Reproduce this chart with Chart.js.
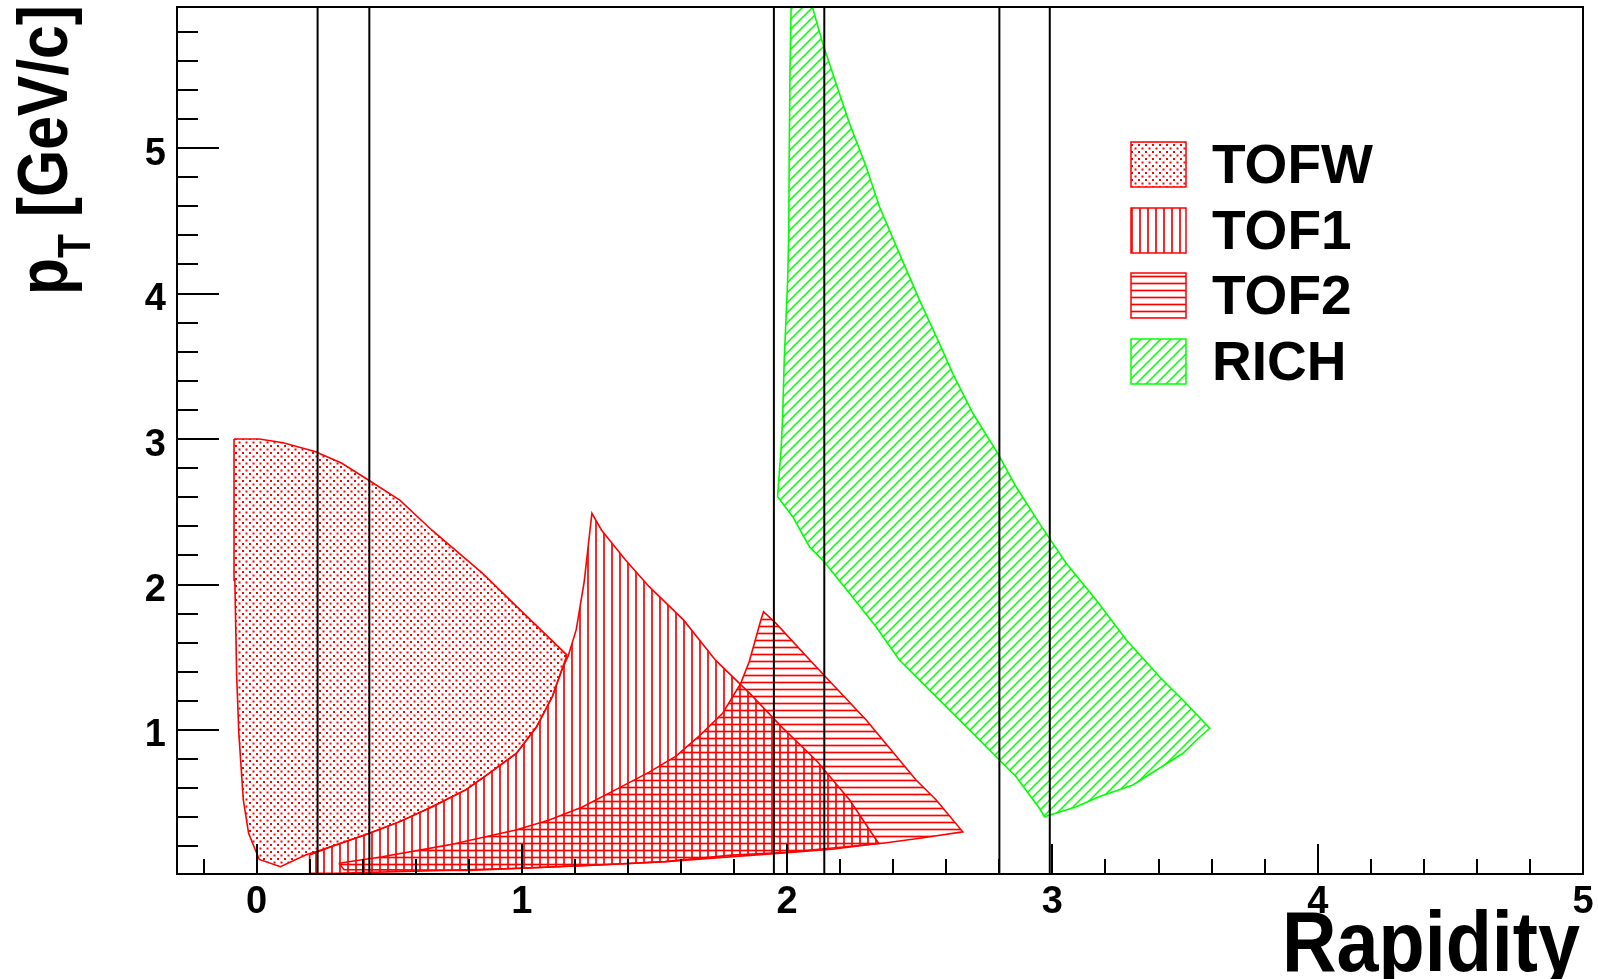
<!DOCTYPE html>
<html>
<head>
<meta charset="utf-8">
<title>Acceptance pT vs rapidity</title>
<script src="https://cdn.jsdelivr.net/npm/chart.js@4.4.1/dist/chart.umd.min.js"></script>
<style>
  html, body { margin: 0; padding: 0; background: #fff; }
  #wrap { width: 1598px; height: 979px; }
</style>
</head>
<body>
<div id="wrap"><canvas id="acceptance"></canvas></div>
<script>
// acceptance contours, rapidity (x) and pT in GeV/c (y)
const tofwRapidity = [-0.085, 0.01, 0.10, 0.22, 0.32, 0.42, 0.54, 0.66, 0.85, 0.98, 1.17, 1.15, 1.115, 1.055, 0.98, 0.875, 0.79, 0.66, 0.54, 0.41, 0.285, 0.185, 0.09, 0.01, -0.03, -0.05, -0.067, -0.075, -0.082, -0.085];
const tofwPt = [3.0, 3.0, 2.975, 2.915, 2.835, 2.72, 2.58, 2.375, 2.08, 1.85, 1.515, 1.41, 1.23, 1.02, 0.84, 0.70, 0.59, 0.47, 0.37, 0.28, 0.20, 0.14, 0.06, 0.11, 0.29, 0.52, 0.98, 1.37, 2.03, 3.0];

const tof1Rapidity = [0.20, 0.285, 0.41, 0.54, 0.66, 0.79, 0.875, 0.98, 1.055, 1.115, 1.15, 1.175, 1.205, 1.235, 1.264, 1.30, 1.39, 1.48, 1.61, 1.73, 1.86, 1.98, 2.11, 2.235, 2.345, 2.17, 1.95, 1.54, 1.29, 1.0, 0.6, 0.3, 0.2, 0.2];
const tof1Pt = [0.14, 0.20, 0.28, 0.37, 0.47, 0.59, 0.70, 0.84, 1.02, 1.23, 1.41, 1.51, 1.69, 2.02, 2.49, 2.375, 2.17, 1.985, 1.755, 1.48, 1.25, 1.02, 0.79, 0.52, 0.22, 0.18, 0.15, 0.095, 0.072, 0.05, 0.03, 0.015, 0.015, 0.14];

const tof2Rapidity = [0.31, 0.474, 0.725, 0.977, 1.103, 1.228, 1.354, 1.48, 1.581, 1.669, 1.757, 1.825, 1.857, 1.901, 1.911, 1.958, 2.109, 2.298, 2.486, 2.562, 2.662, 2.50, 2.36, 2.0, 1.79, 1.54, 1.29, 0.8, 0.33, 0.31];
const tof2Pt = [0.084, 0.129, 0.21, 0.313, 0.381, 0.47, 0.59, 0.71, 0.82, 0.96, 1.115, 1.321, 1.469, 1.756, 1.813, 1.733, 1.435, 1.069, 0.656, 0.519, 0.30, 0.256, 0.221, 0.16, 0.14, 0.095, 0.072, 0.035, 0.04, 0.084];

const richRapidity = [2.02, 2.075, 2.134, 2.184, 2.235, 2.298, 2.348, 2.423, 2.499, 2.574, 2.624, 2.70, 2.794, 2.863, 2.951, 3.052, 3.165, 3.279, 3.404, 3.492, 3.593, 3.543, 3.492, 3.303, 3.178, 3.09, 2.97, 2.951, 2.863, 2.80, 2.675, 2.549, 2.423, 2.335, 2.235, 2.134, 2.084, 2.021, 1.964, 1.971, 1.977, 1.983, 1.989, 1.996, 2.002, 2.006, 2.008, 2.011, 2.015, 2.02];
const richPt = [6.1, 6.1, 5.72, 5.445, 5.17, 4.872, 4.597, 4.276, 3.955, 3.658, 3.452, 3.177, 2.902, 2.672, 2.42, 2.146, 1.893, 1.619, 1.366, 1.206, 1.012, 0.931, 0.84, 0.622, 0.542, 0.473, 0.404, 0.462, 0.679, 0.794, 1.023, 1.252, 1.481, 1.71, 1.94, 2.168, 2.26, 2.466, 2.603, 2.787, 2.924, 3.153, 3.543, 3.84, 4.093, 4.414, 5.009, 5.559, 5.97, 6.1];

// rapidity cuts drawn as vertical lines
const cutRapidity = [0.23, 0.425, 1.95, 2.14, 2.80, 2.99];

const rapidityTicks = [0, 1, 2, 3, 4, 5];
const ptTicks = [1, 2, 3, 4, 5];

const rapidityMin = -0.3, rapidityMax = 5.0;
const ptMin = 0.01, ptMax = 5.97;

const RED = '#ff0000';
const GREEN = '#00ff00';

function makePattern(kind, color) {
  const c = document.createElement('canvas');
  const g = c.getContext('2d');
  let s = 8;
  if (kind === 'dots') s = 7;
  if (kind === 'horizontal') s = 7;
  if (kind === 'diagonal') s = 10;
  c.width = s; c.height = s;
  g.strokeStyle = color;
  g.fillStyle = color;
  g.lineWidth = 1.7;
  if (kind === 'dots') {
    g.fillRect(0.5, 0.5, 2, 2);
    g.fillRect(4, 4, 2, 2);
  } else if (kind === 'vertical') {
    g.beginPath(); g.moveTo(4, 0); g.lineTo(4, s); g.stroke();
  } else if (kind === 'horizontal') {
    g.beginPath(); g.moveTo(0, 3.5); g.lineTo(s, 3.5); g.stroke();
  } else {
    g.lineWidth = 1.5;
    g.beginPath();
    g.moveTo(0, s); g.lineTo(s, 0);
    g.moveTo(-2, 2); g.lineTo(2, -2);
    g.moveTo(s - 2, s + 2); g.lineTo(s + 2, s - 2);
    g.stroke();
  }
  return g.createPattern(c, 'repeat');
}

function toPoints(xs, ys) {
  return xs.map((x, i) => ({ x: x, y: ys[i] }));
}

function region(label, xs, ys, color, kind, order) {
  return {
    label: label,
    data: toPoints(xs, ys),
    showLine: true,
    borderColor: color,
    borderWidth: 1.6,
    pointRadius: 0,
    fill: false,
    hatch: makePattern(kind, color),
    order: order
  };
}

const datasets = [
  region('TOFW', tofwRapidity, tofwPt, RED, 'dots', 4),
  region('TOF1', tof1Rapidity, tof1Pt, RED, 'vertical', 3),
  region('TOF2', tof2Rapidity, tof2Pt, RED, 'horizontal', 2),
  region('RICH', richRapidity, richPt, GREEN, 'diagonal', 1)
];
cutRapidity.forEach(v => {
  datasets.push({
    label: 'cut',
    data: [{ x: v, y: ptMin }, { x: v, y: ptMax }],
    showLine: true,
    borderColor: '#000',
    borderWidth: 2,
    pointRadius: 0,
    order: 0
  });
});

// fills the closed contour with its hatch before the outline is stroked
const hatchFill = {
  id: 'hatchFill',
  beforeDatasetDraw(chart, args) {
    const ds = chart.data.datasets[args.index];
    if (!ds.hatch) return;
    const a = chart.chartArea;
    const ctx = chart.ctx;
    ctx.save();
    ctx.beginPath();
    ctx.rect(a.left, a.top, a.right - a.left, a.bottom - a.top);
    ctx.clip();
    ctx.beginPath();
    args.meta.data.forEach((p, i) => i ? ctx.lineTo(p.x, p.y) : ctx.moveTo(p.x, p.y));
    ctx.closePath();
    ctx.fillStyle = ds.hatch;
    ctx.fill();
    ctx.restore();
  }
};

// frame, inward ticks, axis titles and the legend
const rootFrame = {
  id: 'rootFrame',
  afterDraw(chart) {
    const ctx = chart.ctx;
    const a = chart.chartArea;
    const xs = chart.scales.x, ys = chart.scales.y;
    ctx.save();
    ctx.strokeStyle = '#000';
    ctx.lineWidth = 2;
    ctx.strokeRect(a.left, a.top, a.right - a.left, a.bottom - a.top);

    ctx.beginPath();
    for (let i = -1; i <= 24; i++) {
      const px = Math.round(xs.getPixelForValue(i * 0.2));
      const len = i % 5 === 0 ? 30 : 15;
      ctx.moveTo(px, a.bottom);
      ctx.lineTo(px, a.bottom - len);
    }
    for (let i = 1; i <= 29; i++) {
      const py = Math.round(ys.getPixelForValue(i * 0.2));
      const len = i % 5 === 0 ? 42 : 21;
      ctx.moveTo(a.left, py);
      ctx.lineTo(a.left + len, py);
    }
    ctx.stroke();

    ctx.fillStyle = '#000';
    ctx.textBaseline = 'alphabetic';
    ctx.textAlign = 'left';

    // x title, narrowed like the original font
    ctx.save();
    ctx.font = 'bold 85px "Liberation Sans", Arial, sans-serif';
    const wr = ctx.measureText('Rapidity').width;
    ctx.translate(1282, 971);
    ctx.scale(298 / wr, 1);
    ctx.fillText('Rapidity', 0, 0);
    ctx.restore();

    // y title p_T [GeV/c], rotated
    ctx.save();
    const mainFont = 'bold 71px "Liberation Sans", Arial, sans-serif';
    const subFont = 'bold 46px "Liberation Sans", Arial, sans-serif';
    ctx.font = mainFont;
    const wp = ctx.measureText('p').width;
    const wRest = ctx.measureText(' [GeV/c]').width;
    ctx.font = subFont;
    const wT = ctx.measureText('T').width;
    ctx.translate(67, 295);
    ctx.rotate(-Math.PI / 2);
    ctx.scale(290 / (wp + wT + wRest), 1);
    ctx.font = mainFont;
    ctx.fillText('p', 0, 0);
    ctx.font = subFont;
    ctx.fillText('T', wp, 23);
    ctx.font = mainFont;
    ctx.fillText(' [GeV/c]', wp + wT, 0);
    ctx.restore();

    // legend
    const boxX = 1131, boxW = 55, boxH = 45, textX = 1212;
    const rowTop = [142, 208, 273, 339];
    ctx.font = 'bold 55px "Liberation Sans", Arial, sans-serif';
    chart.data.datasets.filter(d => d.hatch).forEach((d, i) => {
      const top = rowTop[i];
      ctx.fillStyle = d.hatch;
      ctx.fillRect(boxX, top, boxW, boxH);
      ctx.strokeStyle = d.borderColor;
      ctx.lineWidth = 1.5;
      ctx.strokeRect(boxX, top, boxW, boxH);
      ctx.fillStyle = '#000';
      ctx.fillText(d.label, textX, top + 41);
    });
    ctx.restore();
  }
};

const tickFont = { family: '"Liberation Sans", Arial, sans-serif', size: 38, weight: 'bold' };

new Chart(document.getElementById('acceptance'), {
  type: 'scatter',
  data: { datasets: datasets },
  plugins: [hatchFill, rootFrame],
  options: {
    responsive: true,
    maintainAspectRatio: false,
    animation: false,
    layout: { padding: { top: 7, right: 15, left: 0, bottom: 0 } },
    plugins: {
      legend: { display: false },
      tooltip: { enabled: false }
    },
    elements: { line: { tension: 0 } },
    scales: {
      x: {
        type: 'linear',
        min: rapidityMin,
        max: rapidityMax,
        grid: { display: false, drawTicks: false },
        border: { display: false },
        afterBuildTicks: s => { s.ticks = rapidityTicks.map(v => ({ value: v })); },
        afterFit: s => {
          s.height = 105;
          s.paddingLeft = 0; s.paddingRight = 0; s.paddingTop = 0; s.paddingBottom = 0;
        },
        ticks: { font: tickFont, color: '#000', padding: 6, maxRotation: 0, autoSkip: false }
      },
      y: {
        type: 'linear',
        min: ptMin,
        max: ptMax,
        grid: { display: false, drawTicks: false },
        border: { display: false },
        afterBuildTicks: s => { s.ticks = ptTicks.map(v => ({ value: v })); },
        afterFit: s => {
          s.width = 177;
          s.paddingLeft = 0; s.paddingRight = 0; s.paddingTop = 0; s.paddingBottom = 0;
        },
        ticks: { font: tickFont, color: '#000', padding: 11, labelOffset: 6, autoSkip: false }
      }
    }
  }
});
</script>
</body>
</html>
